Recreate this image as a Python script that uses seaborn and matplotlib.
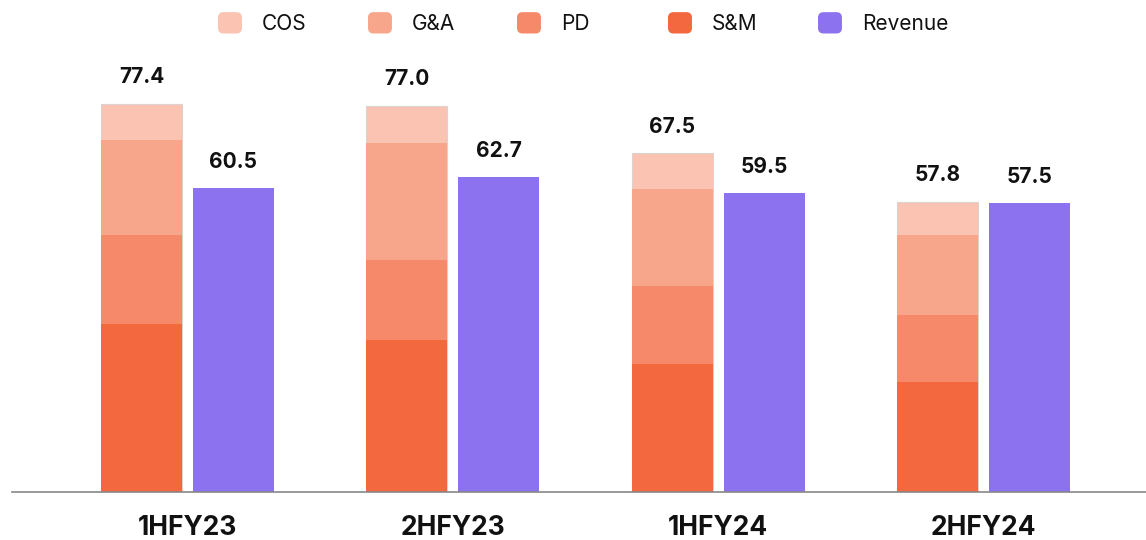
import matplotlib
matplotlib.use("Agg")
import matplotlib.pyplot as plt
import seaborn as sns
import pandas as pd
from matplotlib.patches import FancyBboxPatch, Patch
from matplotlib.legend_handler import HandlerPatch

# Half-year periods
periods = ["1HFY23", "2HFY23", "1HFY24", "2HFY24"]

# Expense components (stacked, bottom to top)
sm = [33.4, 30.2, 25.4, 21.9]
pd_cost = [17.8, 16.0, 15.6, 13.3]
ga = [18.9, 23.4, 19.4, 15.9]
cos = [7.3, 7.4, 7.1, 6.7]

# Revenue
revenue = [60.5, 62.7, 59.5, 57.5]

colors = {
    "COS": "#FAC3B2",
    "G&A": "#F8A68B",
    "PD": "#F6896A",
    "S&M": "#F4683F",
    "Revenue": "#8D72F0",
}

sns.set_theme(style="white")
plt.rcParams["font.family"] = ["Inter", "DejaVu Sans"]

fig = plt.figure(figsize=(11.46, 5.4), dpi=100)
ax = fig.add_axes([12 / 1146, 48.3 / 540, 1 - 12 / 1146, (491.7 - 60) / 540])

hue_order = ["Expenses", "Revenue"]

# Cumulative layers for the stacked expense bar, drawn from the tallest down;
# every call carries both hue levels so the dodge positions stay the same
layers = [
    ("COS", [a + b + c + d for a, b, c, d in zip(sm, pd_cost, ga, cos)]),
    ("G&A", [a + b + c for a, b, c in zip(sm, pd_cost, ga)]),
    ("PD", [a + b for a, b in zip(sm, pd_cost)]),
    ("S&M", list(sm)),
]

for name, heights in layers:
    df = pd.DataFrame({
        "period": periods * 2,
        "series": ["Expenses"] * len(periods) + ["Revenue"] * len(periods),
        "value": heights + revenue,
    })
    n_before = len(ax.patches)
    sns.barplot(
        data=df, x="period", y="value", hue="series", hue_order=hue_order,
        order=periods, palette={"Expenses": colors[name], "Revenue": colors["Revenue"]},
        width=0.694, gap=0.121, saturation=1, ax=ax, legend=False, errorbar=None,
        linewidth=0,
    )
    if name == "COS":
        for p in ax.patches[n_before:n_before + len(periods)]:
            p.set_edgecolor("#DCD3CF")
            p.set_linewidth(0.8)

# Value labels above each bar
totals = layers[0][1]
offset = 0.1735
for i in range(len(periods)):
    ax.annotate(f"{totals[i]:.1f}", (i - offset, totals[i]), xytext=(0, 12),
                textcoords="offset points", ha="center", va="bottom",
                fontsize=15, fontweight="bold", color="#111111")
    ax.annotate(f"{revenue[i]:.1f}", (i + offset, revenue[i]), xytext=(0, 12),
                textcoords="offset points", ha="center", va="bottom",
                fontsize=15, fontweight="bold", color="#111111")

ax.set_xlim(-0.661, 3.612)
ax.set_ylim(0, 86.08)
ax.set_xlabel("")
ax.set_ylabel("")
ax.set_yticks([])
ax.tick_params(axis="x", length=0, pad=17)
for lbl in ax.get_xticklabels():
    lbl.set_fontsize(19)
    lbl.set_fontweight("bold")
    lbl.set_color("#111111")

for side in ["top", "right", "left"]:
    ax.spines[side].set_visible(False)
ax.spines["bottom"].set_color("#888888")
ax.spines["bottom"].set_linewidth(1.2)


class RoundedHandler(HandlerPatch):
    def create_artists(self, legend, orig_handle, xdescent, ydescent,
                       width, height, fontsize, trans):
        p = FancyBboxPatch((-xdescent + 3, -ydescent + 3), width - 6, height - 6,
                           boxstyle="round,pad=3,rounding_size=4",
                           facecolor=orig_handle.get_facecolor(), edgecolor="none",
                           transform=trans)
        return [p]


# Legend entries spaced evenly along the top
names = ["COS", "G&A", "PD", "S&M", "Revenue"]
legend_x = [218, 368, 517, 668, 818]
for n, x in zip(names, legend_x):
    leg = fig.legend([Patch(facecolor=colors[n])], [n], loc="center left",
                     bbox_to_anchor=(x / 1146, 1 - 23 / 540), frameon=False,
                     fontsize=15, handlelength=1.15, handleheight=1.2,
                     handletextpad=0.95, borderpad=0, borderaxespad=0,
                     handler_map={Patch: RoundedHandler()})
    for t in leg.get_texts():
        t.set_color("#111111")

fig.savefig("out.png", dpi=100)
